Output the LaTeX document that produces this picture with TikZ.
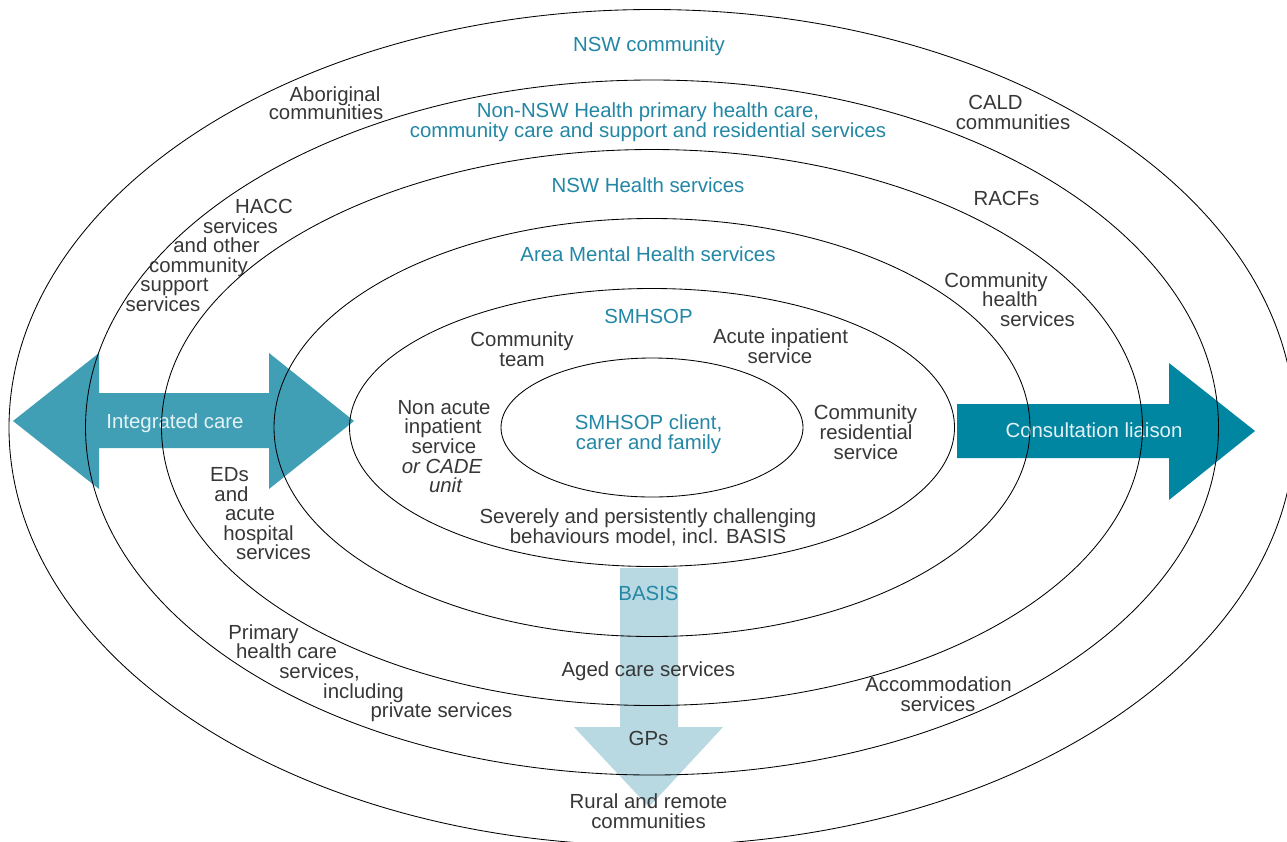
\documentclass[tikz,border=0pt]{standalone}
\usepackage{fontspec}
\setmainfont{Liberation Sans}
\definecolor{tealtext}{RGB}{35,135,165}
\definecolor{textgray}{RGB}{55,55,55}
\definecolor{arrowtext}{RGB}{228,242,246}
\definecolor{integfill}{RGB}{65,159,181}
\definecolor{consultfill}{RGB}{0,134,161}
\definecolor{basisfill}{RGB}{184,216,226}
\begin{document}
\begin{tikzpicture}[x=1pt,y=-1pt,
  ring/.style={draw=black,line width=0.85pt},
  txt/.style={font=\fontsize{20.4}{19.6}\selectfont,text=textgray,inner sep=0pt,anchor=base},
  tealtxt/.style={txt,text=tealtext},
  arrtxt/.style={txt,text=arrowtext},
  ittxt/.style={txt,font=\fontsize{20.4}{19.6}\selectfont\itshape}]
\useasboundingbox (0,0) rectangle (1287,841);
\clip (0,0) rectangle (1287,841);
\fill[white] (0,0) rectangle (1287,841);

% arrows
\fill[integfill] (13,421) -- (99,353) -- (99,393) -- (269,393) -- (269,353) -- (354,421)
  -- (269,489) -- (269,448) -- (99,448) -- (99,489) -- cycle;
\fill[consultfill] (957,404) -- (1169,404) -- (1169,363) -- (1255,431) -- (1169,500)
  -- (1169,458) -- (957,458) -- cycle;
\fill[basisfill] (620,568) -- (678,568) -- (678,727) -- (723,727) -- (649,807)
  -- (574,727) -- (620,727) -- cycle;

\node[arrtxt] (integ) at (175,428.3) {Integrated care};
\node[arrtxt] (consult) at (1094,437) {Consultation liaison};

% rings
\draw[ring] (652,427.5) ellipse [x radius=151pt, y radius=69.5pt];
\draw[ring] (652,427.5) ellipse [x radius=302.5pt, y radius=139pt];
\draw[ring] (652,427.5) ellipse [x radius=378pt, y radius=209pt];
\draw[ring] (652,427.5) ellipse [x radius=490.5pt, y radius=278pt];
\draw[ring] (652,427.5) ellipse [x radius=566.5pt, y radius=347.5pt];
\draw[ring] (652,427.5) ellipse [x radius=643pt, y radius=418pt];

% teal headings
\node[tealtxt] (nswc) at (649,51) {NSW community};
\node[tealtxt] (nonnswa) at (648,117) {Non-NSW Health primary health care,};
\node[tealtxt] (nonnswb) at (648,137) {community care and support and residential services};
\node[tealtxt] (nswh) at (648,192) {NSW Health services};
\node[tealtxt] (amh) at (648,261) {Area Mental Health services};
\node[tealtxt] (smhsop) at (648.5,323) {SMHSOP};
\node[tealtxt] (clienta) at (648.5,429) {SMHSOP client,};
\node[tealtxt] (clientb) at (648.5,449) {carer and family};
\node[tealtxt] (basis) at (648.5,600.5) {BASIS};

% outer ring labels
\node[txt] (abora) at (335,101) {Aboriginal};
\node[txt] (aborb) at (326,119.5) {communities};
\node[txt] (calda) at (995.5,109.5) {CALD};
\node[txt] (caldb) at (1013,129) {communities};
\node[txt] (racf) at (1006.5,205) {RACFs};

\node[txt] (hacca) at (264,213.5) {HACC};
\node[txt] (haccb) at (240.5,233) {services};
\node[txt] (haccc) at (216.5,252.5) {and other};
\node[txt] (haccd) at (198.5,272) {community};
\node[txt] (hacce) at (174.5,291.5) {support};
\node[txt] (haccf) at (163,311) {services};

\node[txt] (chsa) at (996,287) {Community};
\node[txt] (chsb) at (1010,306) {health};
\node[txt] (chsc) at (1037.5,326) {services};

\node[txt] (ctga) at (522,346) {Community};
\node[txt] (ctgb) at (522,366) {team};
\node[txt] (acua) at (780.5,343) {Acute inpatient};
\node[txt] (acub) at (780,363) {service};

\node[txt] (naa) at (444,414) {Non acute};
\node[txt] (nab) at (443,433.5) {inpatient};
\node[txt] (nac) at (444,453) {service};
\node[ittxt] (nad) at (442,473) {or CADE};
\node[ittxt] (nae) at (445.5,492) {unit};

\node[txt] (cra) at (865.5,419) {Community};
\node[txt] (crb) at (866,439) {residential};
\node[txt] (crc) at (866,459) {service};

\node[txt] (eda) at (229.5,481.5) {EDs};
\node[txt] (edb) at (231.5,501) {and};
\node[txt] (edc) at (250,520.5) {acute};
\node[txt] (edd) at (258.5,540) {hospital};
\node[txt] (ede) at (273.5,559.5) {services};

\node[txt] (seva) at (648,523) {Severely and persistently challenging};
\node[txt] (sevb) at (648,543) {behaviours model, incl. BASIS};

\node[txt] (aged) at (648.3,676.7) {Aged care services};

\node[txt] (pria) at (263.5,639) {Primary};
\node[txt] (prib) at (286.5,658.5) {health care};
\node[txt] (pric) at (319.5,678) {services,};
\node[txt] (prid) at (363.5,698) {including};
\node[txt] (prie) at (441.5,717.5) {private services};

\node[txt] (acca) at (938.5,691.5) {Accommodation};
\node[txt] (accb) at (938,711) {services};

\node[txt] (gps) at (648.5,745.7) {GPs};
\node[txt] (rura) at (648.5,808) {Rural and remote};
\node[txt] (rurb) at (648.5,828) {communities};
\end{tikzpicture}
\end{document}
